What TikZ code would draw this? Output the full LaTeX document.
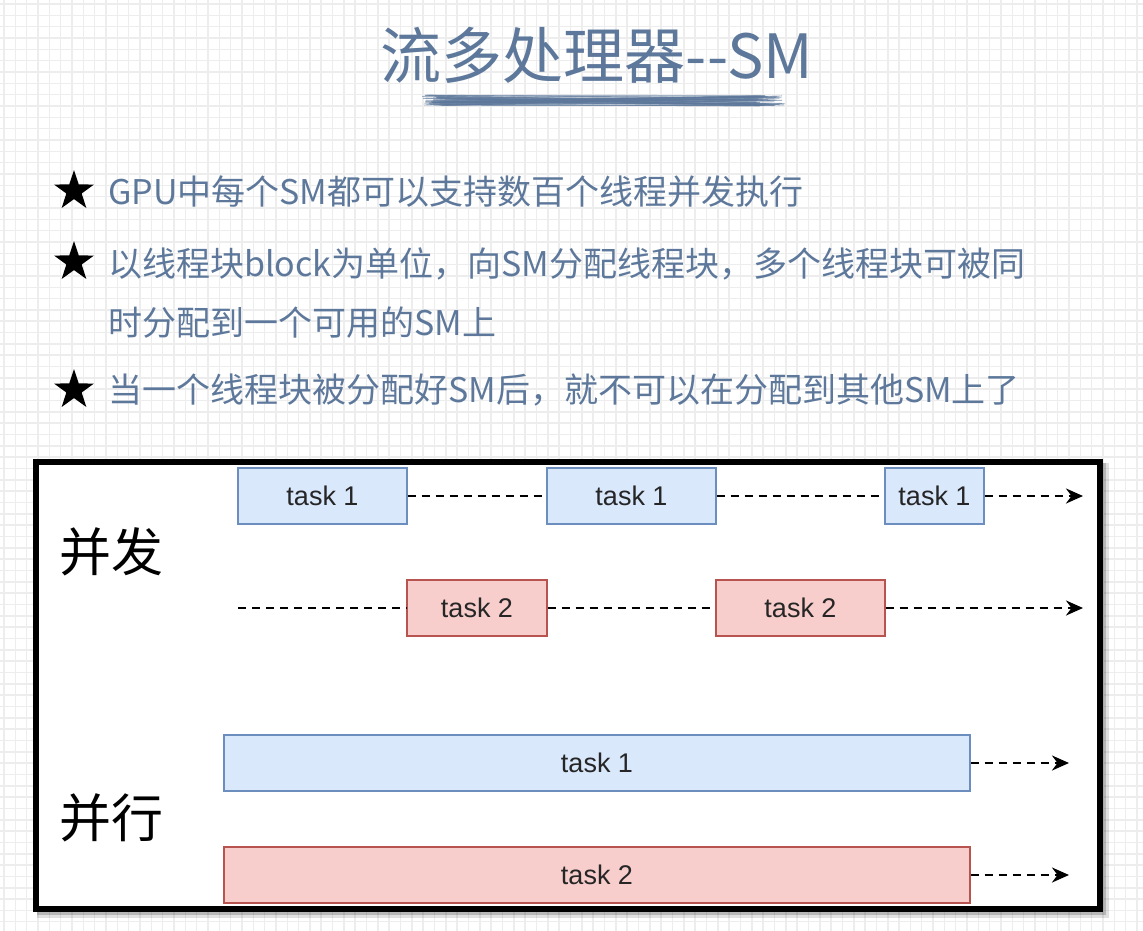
\documentclass[tikz,border=0pt]{standalone}
\usepackage{fontspec}
\setmainfont{Liberation Sans}
\newfontfamily\cjk{Noto Sans CJK SC}
\usetikzlibrary{shapes.geometric,arrows.meta}
\tikzset{>=latex}
\definecolor{SlateBlue}{RGB}{93,120,155}
\definecolor{TaskBlue}{HTML}{DAE8FC}
\definecolor{TaskBlueLine}{HTML}{6C8EBF}
\definecolor{TaskRed}{HTML}{F8CECC}
\definecolor{TaskRedLine}{HTML}{B85450}
\tikzset{
  taskbox/.style={draw, line width=1.2pt, minimum height=56pt, inner sep=0pt, font=\fontsize{27}{27}\selectfont, text=black!85},
  bluetask/.style={taskbox, fill=TaskBlue, draw=TaskBlueLine},
  redtask/.style={taskbox, fill=TaskRed, draw=TaskRedLine},
  flow/.style={dash pattern=on 8pt off 6pt, line width=2.6pt, -{Stealth[length=17pt,width=15pt]}},
  gap/.style={dash pattern=on 8pt off 6pt, line width=2.6pt},
  bullet/.style={star, star points=5, star point ratio=2.6, fill=black, minimum size=42pt, inner sep=0pt},
  point/.style={anchor=west, text=SlateBlue, inner sep=0pt, font=\cjk\fontsize{34}{34}\selectfont},
  kind/.style={inner sep=0pt, font=\cjk\fontsize{52}{52}\selectfont}
}
\begin{document}
\begin{tikzpicture}[x=1pt,y=-1pt]
        \useasboundingbox (0,0) rectangle (1143,930);
        \fill[white] (0,0) rectangle (1143,930);
        \draw[black!7, line width=1.5pt, step=11.33pt, xshift=4pt, yshift=-4pt] (-4,-4) grid (1143,930);
        \node[text=SlateBlue, inner sep=0pt, font=\cjk\fontsize{61}{61}\selectfont] (title) at (597,55) {流多处理器--SM};
        \pgfmathsetseed{7}
        \foreach \i in {1,...,50} {
          \draw[SlateBlue, line width=0.9pt, opacity=0.55] ({422+rnd*25},{95+rnd*11}) -- ({755+rnd*30},{95+rnd*11});
        }
        \node[bullet] (s1) at (74,191) {};
        \node[bullet] (s2) at (74,262) {};
        \node[bullet] (s3) at (74,390) {};
        \node[point] (t1) at (108,192) {GPU中每个SM都可以支持数百个线程并发执行};
        \node[point] (t2) at (108,264) {以线程块block为单位，向SM分配线程块，多个线程块可被同};
        \node[point] (t2b) at (108,323) {时分配到一个可用的SM上};
        \node[point] (t3) at (108,390) {当一个线程块被分配好SM后，就不可以在分配到其他SM上了};
        \fill[black, opacity=0.12] (37,463) rectangle (1109,918);
        \fill[black, opacity=0.18] (37,463) rectangle (1106,915);
        \draw[line width=6pt, fill=white] (36,462) rectangle (1100,909);
        \node[kind] (conc) at (111,552) {并发};
        \node[kind] (para) at (111,818) {并行};
        \node[bluetask, minimum width=169pt] (a1) at (322.5,496) {task 1};
        \node[bluetask, minimum width=169pt] (a2) at (631.5,496) {task 1};
        \node[bluetask, minimum width=99pt] (a3) at (934.5,496) {task 1};
        \node[redtask, minimum width=140pt] (b1) at (477,608) {task 2};
        \node[redtask, minimum width=169pt] (b2) at (800.5,608) {task 2};
        \coordinate (aend) at (1083,496);
        \coordinate (bstart) at (238,608);
        \coordinate (bend) at (1083,608);
        \draw[gap] (a1.east) -- (a2.west);
        \draw[gap] (a2.east) -- (a3.west);
        \draw[flow] (a3.east) -- (aend);
        \draw[gap] (bstart) -- (b1.west);
        \draw[gap] (b1.east) -- (b2.west);
        \draw[flow] (b2.east) -- (bend);
        \node[bluetask, minimum width=746pt] (p1) at (597,763) {task 1};
        \node[redtask, minimum width=746pt] (p2) at (597,875) {task 2};
        \coordinate (p1end) at (1069,763);
        \coordinate (p2end) at (1069,875);
        \draw[flow] (p1.east) -- (p1end);
        \draw[flow] (p2.east) -- (p2end);
\end{tikzpicture}
\end{document}
